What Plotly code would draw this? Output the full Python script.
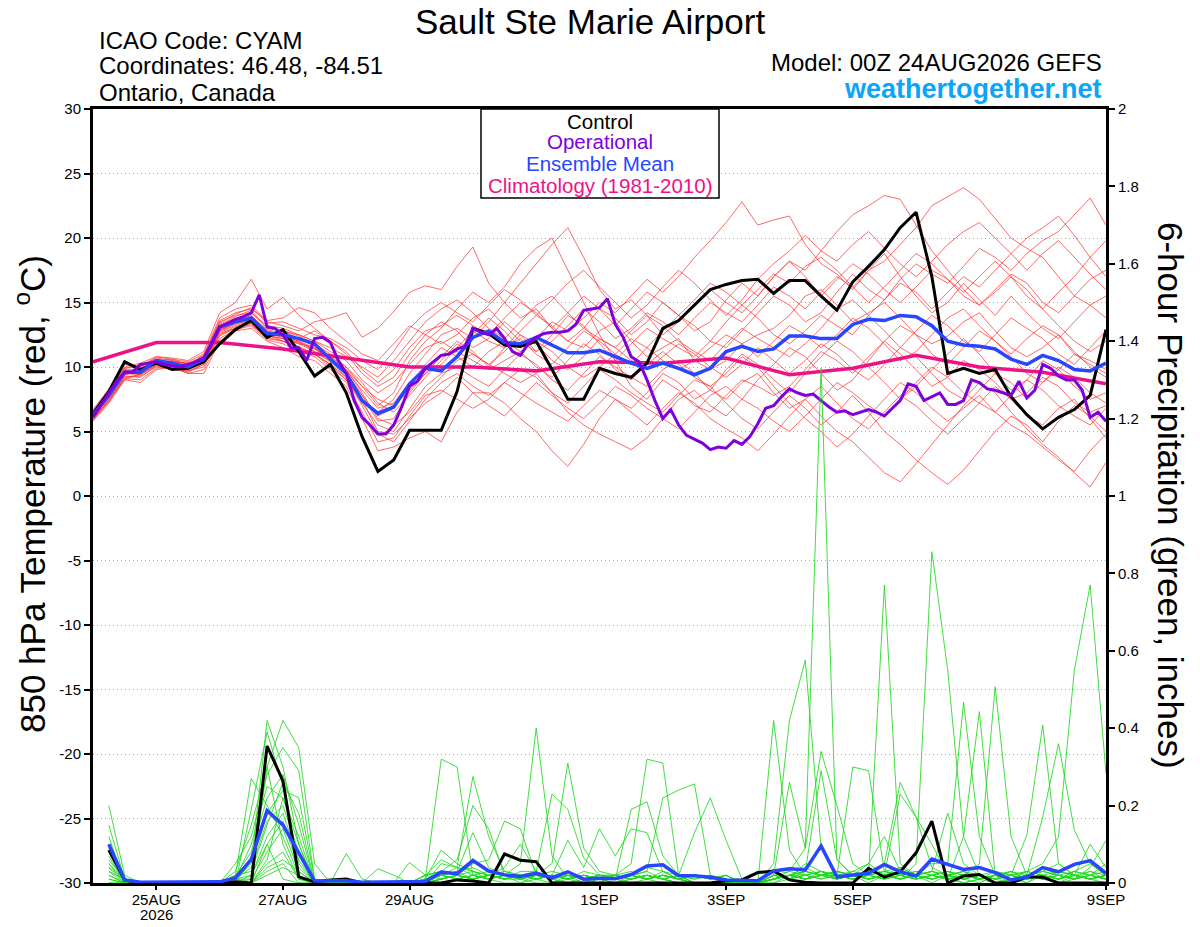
import plotly.graph_objects as go

# === time axis (hours after 00Z 24AUG2026) ===
hours6 = list(range(0, 385, 6))
hours3 = list(range(0, 385, 3))
hours24 = list(range(0, 385, 24))
precip_hours = list(range(6, 385, 6))

day_ticks = [24, 72, 120, 192, 240, 288, 336, 384]
day_labels = ['25AUG', '27AUG', '29AUG', '1SEP', '3SEP', '5SEP', '7SEP', '9SEP']
year_label = '2026'

temp_ticks = list(range(-30, 31, 5))
precip_ticks = [0, 0.2, 0.4, 0.6, 0.8, 1, 1.2, 1.4, 1.6, 1.8, 2]
precip_labels = ['0', '0.2', '0.4', '0.6', '0.8', '1', '1.2', '1.4', '1.6', '1.8', '2']

# === 850 hPa temperature (C) ===
control_t = [6.4, 8.1, 10.4, 9.8, 10.3, 9.8, 9.9, 10.4, 11.8, 12.9, 13.6, 12.3, 12.9, 11.2, 9.3, 10.2, 8.0, 4.6, 1.9, 2.8, 5.1, 5.1,
             5.1, 8.1, 13.0, 12.6, 11.7, 11.6, 12.0, 9.8, 7.5, 7.5, 9.9, 9.5, 9.2, 10.3, 13.0, 13.6, 14.8, 16.0, 16.4, 16.7, 16.8, 15.7,
             16.7, 16.7, 15.5, 14.4, 16.6, 17.8, 19.1, 20.8, 22.0, 17.0, 9.5, 9.9, 9.5, 9.8, 7.7, 6.3, 5.2, 6.1, 6.7, 7.8, 12.9]

# operational run is 3-hourly
operational_t = [6.1, 7.1, 8.0, 8.9, 9.6, 9.6, 10.2, 10.3, 10.4, 10.2, 10.1, 10.0, 10.2, 10.4, 10.7, 11.8, 13.1, 13.4, 13.7, 13.9, 14.2, 15.6,
                 13.1, 13.0, 12.5, 11.5, 11.5, 10.5, 12.2, 12.3, 11.9, 10.5, 9.5, 7.4, 6.1, 5.5, 4.8, 4.8, 5.5, 6.9, 8.5, 8.9, 9.9,
                 10.4, 10.9, 11.0, 11.4, 11.6, 13.0, 12.7, 12.5, 13.0, 12.2, 11.2, 10.9, 11.8, 12.3, 12.6, 12.7, 12.7, 12.8, 13.3, 14.4,
                 14.5, 14.6, 15.3, 13.3, 12.3, 10.8, 10.4, 9.0, 7.4, 6.0, 6.7, 5.5, 4.7, 4.4, 4.1, 3.6, 3.8, 3.7, 4.3, 4.0, 4.6, 5.6, 6.8,
                 7.0, 7.7, 8.3, 8.0, 7.8, 7.9, 7.4, 6.9, 6.5, 6.6, 6.3, 6.5, 6.7, 6.5, 6.2, 6.8, 7.4, 8.7, 8.5, 7.4, 7.7, 8.0, 7.1, 7.1,
                 7.4, 9.0, 8.8, 8.3, 8.2, 8.0, 7.8, 8.9, 7.6, 8.2, 10.2, 9.9, 9.3, 9.0, 9.0, 8.2, 6.1, 6.5, 5.8]

mean_t = [6.3, 7.8, 9.6, 9.6, 10.5, 10.3, 10.0, 10.6, 13.1, 13.5, 13.8, 12.6, 12.5, 12.2, 11.8, 10.6, 9.5, 7.4, 6.4, 6.9, 8.7, 9.9,
          9.7, 10.8, 12.3, 12.8, 11.9, 11.8, 12.3, 11.7, 11.1, 11.1, 11.3, 10.8, 10.3, 9.9, 10.3, 9.9, 9.4, 9.9, 11.2, 11.6, 11.2, 11.4,
          12.4, 12.4, 12.2, 12.2, 13.3, 13.7, 13.6, 14.0, 13.9, 13.2, 12.0, 11.7, 11.6, 11.4, 10.6, 10.2, 10.9, 10.5, 9.8, 9.7, 10.3]

# climatology, daily at 00Z
climo_t = [10.4, 11.9, 11.9, 11.4, 10.7, 10.0, 10.0, 9.7, 10.4, 10.3, 10.7, 9.4, 9.9, 10.9, 10.0, 9.6, 8.7]

# ensemble members (red), 6-hourly
temp_members = [
    [6.5, 8.2, 10.2, 10.0, 10.8, 10.6, 10.4, 11.0, 13.8, 14.5, 14.8, 13.5, 13.2, 12.8, 13.5, 13.8, 14.2, 12.3, 13.0, 14.3, 15.8, 16.3,
     16.0, 17.8, 19.3, 16.5, 15.0, 13.8, 14.5, 13.0, 12.0, 11.5, 12.8, 13.5, 12.0, 10.8, 11.5, 12.2, 10.5, 9.8, 10.5, 11.8, 12.5, 13.0,
     14.0, 15.5, 16.0, 14.8, 13.5, 14.2, 15.0, 13.8, 12.5, 11.8, 12.4, 13.5, 14.2, 12.8, 11.5, 10.8, 11.5, 12.5, 11.0, 10.2, 9.5],
    [6.2, 7.6, 9.4, 9.8, 10.5, 10.0, 9.8, 10.4, 12.8, 13.2, 13.6, 12.5, 12.0, 11.5, 11.0, 10.2, 9.2, 7.5, 6.5, 7.5, 9.5, 11.0,
     12.5, 13.0, 12.2, 13.5, 15.0, 16.5, 18.0, 19.5, 20.8, 18.5, 16.0, 14.5, 15.2, 14.0, 12.5, 13.5, 14.8, 16.0, 15.0, 14.2, 15.5, 17.0,
     18.2, 17.0, 15.5, 16.8, 18.0, 17.2, 16.0, 15.0, 16.2, 17.5, 16.8, 15.5, 14.8, 16.0, 17.2, 16.5, 15.0, 14.2, 15.5, 16.8, 17.5],
    [6.0, 7.4, 9.0, 9.5, 10.2, 10.1, 9.7, 10.2, 12.4, 13.0, 13.4, 12.2, 12.8, 12.4, 11.8, 11.0, 10.0, 8.5, 7.0, 8.0, 10.5, 12.0,
     13.0, 14.5, 15.8, 15.0, 16.2, 18.0, 19.2, 20.0, 17.5, 15.0, 12.5, 10.5, 8.5, 7.5, 9.0, 8.2, 7.0, 6.5, 7.8, 9.0, 8.5, 7.8,
     8.5, 9.8, 11.2, 10.5, 9.5, 10.8, 12.0, 11.0, 9.8, 8.5, 9.2, 10.5, 9.8, 8.8, 7.5, 8.0, 9.2, 8.5, 7.2, 6.5, 7.0],
    [5.8, 7.2, 9.0, 8.8, 9.8, 10.0, 9.5, 9.5, 12.0, 12.8, 13.0, 12.0, 11.5, 10.8, 10.5, 9.5, 8.5, 6.0, 3.5, 3.8, 4.5, 5.0,
     4.2, 6.5, 8.0, 8.0, 7.2, 6.0, 5.0, 3.5, 2.3, 4.0, 6.0, 7.5, 6.8, 8.0, 9.5, 8.8, 7.5, 8.2, 9.8, 11.0, 10.2, 9.0,
     8.0, 9.5, 10.8, 12.0, 11.2, 10.0, 8.8, 7.5, 8.5, 9.8, 11.0, 12.2, 11.0, 9.5, 8.2, 9.0, 10.5, 9.8, 8.5, 7.5, 8.0],
    [6.4, 7.9, 9.8, 9.4, 10.3, 10.5, 10.2, 10.8, 13.2, 13.8, 13.5, 12.5, 12.2, 11.8, 11.5, 10.8, 9.8, 8.0, 6.0, 5.5, 6.5, 8.0,
     9.2, 10.5, 11.0, 10.2, 9.5, 8.8, 9.5, 8.0, 6.5, 5.5, 4.8, 4.2, 3.6, 4.5, 6.0, 7.5, 8.2, 7.0, 6.2, 7.5, 9.0, 10.2,
     11.5, 10.8, 9.5, 8.2, 9.0, 10.5, 12.0, 13.2, 12.5, 11.0, 10.2, 11.5, 12.8, 12.0, 10.8, 9.5, 8.8, 9.8, 11.0, 10.5, 9.8],
    [6.6, 8.0, 9.9, 10.2, 10.6, 10.4, 10.3, 10.8, 13.5, 14.0, 14.2, 13.2, 13.0, 12.5, 12.0, 11.2, 10.5, 9.0, 8.0, 8.8, 10.2, 11.5,
     12.0, 11.2, 12.5, 13.8, 12.8, 11.5, 12.2, 13.5, 12.8, 13.8, 15.0, 14.2, 15.5, 16.8, 15.8, 17.0, 18.5, 19.8, 21.2, 22.8, 21.0, 21.4,
     21.7, 19.5, 18.0, 17.2, 16.0, 17.5, 18.8, 17.0, 15.5, 14.2, 15.0, 16.5, 15.2, 14.0, 15.5, 14.2, 13.0, 12.2, 13.5, 14.8, 13.8],
    [6.1, 7.7, 9.5, 9.6, 10.4, 10.2, 10.0, 10.5, 13.0, 13.5, 14.0, 12.8, 12.5, 12.0, 11.5, 10.5, 9.5, 7.8, 5.8, 6.0, 8.0, 9.5,
     10.2, 11.5, 12.8, 12.0, 11.5, 12.8, 14.0, 13.2, 12.0, 13.0, 14.5, 13.8, 12.5, 13.5, 15.0, 14.0, 12.8, 13.5, 15.2, 16.5, 15.5, 17.0,
     18.2, 17.5, 19.0, 20.5, 21.8, 22.5, 23.3, 23.0, 21.0, 19.0, 17.5, 16.0, 14.8, 15.8, 17.0, 16.0, 14.5, 13.2, 12.0, 11.2, 12.0],
    [6.3, 7.8, 9.7, 9.9, 10.6, 10.3, 10.1, 10.7, 13.3, 13.9, 14.4, 13.0, 12.8, 12.2, 12.8, 12.0, 11.0, 9.5, 8.5, 9.2, 11.0, 12.5,
     13.5, 12.8, 11.5, 12.2, 13.5, 12.5, 11.2, 12.0, 13.2, 14.5, 13.5, 12.2, 13.0, 14.2, 13.5, 12.5, 13.8, 15.0, 14.2, 13.5, 14.8, 16.2,
     15.5, 14.5, 15.8, 17.0, 16.2, 17.5, 18.2, 19.5, 20.8, 22.5, 23.2, 23.9, 23.0, 21.5, 20.0, 19.2, 18.5, 17.0, 15.5, 14.8, 15.5],
    [6.2, 7.7, 9.6, 9.5, 10.3, 10.4, 10.0, 10.3, 12.8, 13.4, 13.8, 12.8, 12.4, 12.0, 11.2, 10.5, 9.8, 8.5, 7.5, 7.0, 8.2, 9.5,
     10.8, 12.0, 11.2, 10.0, 11.5, 12.2, 11.0, 10.2, 11.5, 12.8, 12.0, 11.0, 10.2, 11.5, 12.8, 14.0, 13.2, 12.0, 11.5, 12.8, 14.2, 15.5,
     14.8, 13.5, 14.2, 15.8, 17.2, 16.0, 15.2, 16.8, 18.0, 17.2, 16.5, 17.8, 19.2, 18.5, 17.5, 18.8, 19.8, 20.5, 21.8, 23.1, 21.0],
    [6.5, 8.0, 9.8, 9.7, 10.5, 10.6, 10.2, 10.9, 13.6, 14.2, 14.5, 13.6, 13.8, 14.6, 14.2, 13.0, 12.0, 11.0, 10.5, 11.8, 13.2, 12.5,
     11.8, 12.5, 13.8, 14.5, 13.2, 12.0, 11.2, 12.5, 14.0, 13.2, 11.8, 10.5, 11.8, 13.0, 12.2, 11.5, 10.8, 12.0, 13.5, 14.8, 13.8, 12.5,
     11.8, 12.8, 14.0, 13.2, 12.5, 14.0, 15.2, 16.5, 15.8, 14.5, 15.8, 17.0, 16.2, 17.5, 18.8, 20.0, 20.8, 21.7, 20.2, 18.5, 17.0],
    [5.9, 7.3, 9.2, 9.3, 10.0, 9.9, 9.6, 10.2, 12.6, 13.0, 13.3, 12.2, 12.0, 11.5, 11.0, 10.2, 9.0, 7.2, 5.5, 5.0, 6.8, 8.5,
     9.5, 10.0, 9.2, 8.5, 9.8, 11.0, 10.2, 9.0, 8.2, 9.5, 10.8, 10.0, 9.2, 8.5, 9.8, 10.5, 9.5, 8.2, 7.5, 8.8, 9.5, 8.0,
     6.8, 7.5, 6.2, 5.0, 4.2, 3.0, 1.8, 1.1, 2.5, 4.0, 5.5, 7.0, 8.2, 9.5, 8.8, 7.5, 8.8, 10.0, 9.2, 8.0, 7.2],
    [6.0, 7.5, 9.3, 9.2, 10.1, 10.0, 9.8, 10.3, 12.7, 13.1, 13.5, 12.4, 12.2, 11.8, 11.2, 10.4, 9.2, 7.0, 4.8, 4.2, 5.8, 7.5,
     8.8, 9.5, 8.5, 7.8, 8.8, 9.8, 9.2, 8.0, 7.2, 8.5, 9.8, 9.0, 8.0, 7.2, 6.5, 7.8, 9.0, 8.5, 7.2, 6.0, 5.2, 6.5,
     7.8, 6.8, 5.5, 6.5, 7.8, 6.5, 5.0, 4.0, 2.8, 1.8, 0.9, 2.0, 3.5, 5.0, 6.2, 5.5, 4.2, 5.8, 7.0, 6.2, 5.0],
    [6.4, 7.9, 9.7, 9.6, 10.4, 10.3, 10.1, 10.6, 13.1, 13.6, 13.9, 12.9, 12.6, 12.2, 11.6, 10.8, 10.0, 8.8, 7.2, 6.5, 7.8, 9.2,
     10.5, 11.8, 11.0, 10.2, 11.2, 12.5, 11.8, 10.5, 9.8, 10.8, 12.2, 11.5, 10.5, 9.8, 10.8, 11.8, 11.0, 10.0, 9.2, 10.2, 11.5, 10.5,
     9.5, 10.5, 11.8, 11.0, 9.8, 9.0, 10.2, 11.5, 10.8, 9.5, 8.2, 7.5, 8.8, 8.0, 6.5, 5.2, 4.0, 3.0, 1.8, 0.7, 2.6],
    [6.1, 7.6, 9.4, 9.7, 10.3, 10.1, 9.9, 10.4, 12.9, 13.3, 13.7, 12.6, 12.4, 11.9, 11.4, 10.6, 9.6, 7.8, 6.2, 6.8, 8.5, 10.2,
     11.5, 10.8, 10.0, 11.2, 12.0, 11.2, 10.0, 9.2, 10.5, 11.8, 11.0, 9.8, 9.0, 10.2, 11.2, 10.2, 9.2, 8.5, 9.5, 10.8, 10.0, 8.5,
     7.2, 6.0, 5.0, 3.8, 4.8, 6.2, 7.5, 8.8, 8.0, 6.8, 5.8, 6.8, 7.8, 6.5, 5.5, 4.8, 3.8, 2.8, 1.9, 3.5, 4.8],
    [6.7, 8.3, 10.0, 10.3, 10.8, 10.7, 10.5, 11.2, 14.2, 15.0, 16.8, 14.5, 15.4, 14.0, 13.0, 12.0, 11.2, 9.8, 8.8, 9.8, 11.5, 12.8,
     13.2, 14.0, 13.2, 12.5, 13.8, 15.0, 14.2, 13.0, 14.2, 15.5, 14.5, 13.2, 14.5, 15.8, 15.0, 14.0, 15.2, 16.5, 15.8, 14.8, 16.0, 17.2,
     16.5, 17.8, 18.5, 17.5, 16.2, 15.0, 16.2, 17.5, 18.8, 18.0, 16.8, 15.8, 17.0, 18.2, 17.0, 15.5, 14.5, 15.8, 17.0, 18.5, 19.8],
    [5.9, 7.4, 9.1, 9.0, 9.9, 10.0, 9.5, 9.8, 12.2, 12.9, 13.2, 12.1, 11.8, 11.2, 10.8, 9.8, 8.8, 6.5, 4.2, 4.5, 6.2, 7.8,
     8.2, 7.5, 6.8, 7.5, 8.8, 8.0, 7.2, 6.5, 5.8, 7.0, 8.2, 7.5, 6.5, 5.5, 6.8, 8.0, 7.2, 6.0, 5.2, 4.5, 3.5, 4.8,
     6.2, 7.5, 8.5, 7.2, 6.0, 5.2, 6.5, 7.8, 7.0, 5.8, 4.8, 6.0, 7.2, 8.5, 7.5, 6.2, 5.5, 6.8, 7.5, 6.0, 4.5],
    [6.3, 7.9, 9.6, 9.8, 10.5, 10.4, 10.3, 10.6, 13.2, 13.7, 14.2, 13.0, 12.8, 12.5, 12.0, 11.5, 10.8, 10.0, 9.2, 10.5, 12.0, 13.5,
     14.5, 15.2, 14.2, 13.0, 12.2, 13.5, 14.8, 15.5, 14.2, 13.0, 12.2, 11.5, 12.8, 14.0, 13.2, 12.0, 11.2, 10.5, 11.8, 13.0, 12.2, 11.5,
     10.8, 11.8, 13.0, 14.5, 15.2, 14.0, 12.8, 11.5, 12.8, 14.0, 13.2, 12.0, 11.2, 12.5, 13.8, 13.0, 12.2, 11.0, 10.2, 11.5, 12.8],
    [6.2, 7.7, 9.5, 9.4, 10.2, 10.1, 9.9, 10.4, 12.9, 13.4, 13.6, 12.6, 12.3, 11.9, 11.4, 10.7, 9.7, 8.2, 6.8, 7.2, 8.8, 10.0,
     10.8, 11.2, 10.5, 9.8, 10.5, 11.2, 12.0, 11.2, 10.0, 9.2, 10.0, 11.0, 12.2, 11.5, 10.5, 9.8, 10.5, 11.5, 12.5, 11.8, 10.8, 12.0,
     13.2, 12.5, 11.5, 12.5, 13.8, 13.0, 11.8, 10.5, 11.2, 12.5, 13.8, 14.5, 13.2, 12.0, 11.0, 12.2, 13.2, 12.5, 11.2, 10.0, 9.2],
    [6.5, 8.1, 9.9, 10.0, 10.7, 10.5, 10.2, 10.9, 13.4, 14.1, 14.6, 13.4, 13.5, 13.0, 12.5, 12.2, 11.5, 10.5, 9.8, 11.2, 13.0, 14.2,
     15.0, 14.2, 13.5, 14.8, 16.0, 15.2, 14.0, 15.2, 16.5, 17.5, 16.2, 15.0, 13.8, 14.8, 16.2, 17.5, 16.5, 15.2, 14.0, 15.2, 16.8, 18.0,
     19.0, 20.2, 19.0, 18.2, 19.5, 20.5, 19.2, 18.0, 17.0, 18.2, 19.5, 20.5, 21.2, 20.0, 18.8, 17.5, 18.8, 19.8, 18.5, 17.2, 16.0],
    [6.0, 7.4, 9.2, 9.4, 10.1, 9.8, 9.7, 10.0, 12.5, 13.0, 13.4, 12.3, 12.0, 11.6, 11.0, 10.0, 9.0, 7.5, 5.0, 4.8, 6.0, 7.2,
     8.0, 9.2, 8.0, 7.0, 6.2, 7.5, 8.8, 7.8, 6.8, 6.0, 7.2, 8.5, 7.8, 6.8, 6.0, 5.2, 6.5, 7.8, 8.5, 7.5, 6.8, 5.8,
     5.0, 6.2, 7.5, 8.8, 8.0, 7.0, 6.2, 7.5, 8.8, 10.0, 9.2, 8.0, 7.2, 6.5, 7.8, 9.0, 8.2, 7.0, 6.2, 5.5, 6.8],
]

# === 6-hour precipitation (inches) ===
control_p = [0.085, 0.008, 0, 0, 0, 0, 0, 0, 0.003, 0, 0.354, 0.264, 0.016, 0.003, 0.008, 0.01,
             0, 0, 0, 0, 0, 0, 0.008, 0.005, 0, 0.075, 0.059, 0.055, 0, 0, 0, 0,
             0, 0, 0, 0, 0, 0, 0, 0.006, 0.008, 0.027, 0.031, 0.008, 0.002, 0, 0, 0,
             0.038, 0.015, 0.029, 0.078, 0.16, 0, 0.018, 0.022, 0, 0, 0.016, 0.015, 0, 0, 0, 0]

mean_p = [0.10, 0.008, 0.002, 0.002, 0.002, 0.002, 0.002, 0.003, 0.013, 0.061, 0.187, 0.15, 0.078, 0.005, 0.006, 0.006,
          0.002, 0.002, 0.002, 0.002, 0.004, 0.028, 0.024, 0.058, 0.031, 0.021, 0.017, 0.025, 0.014, 0.029, 0.01, 0.012,
          0.011, 0.022, 0.044, 0.047, 0.019, 0.019, 0.015, 0.008, 0.006, 0.006, 0.031, 0.037, 0.034, 0.096, 0.016, 0.021,
          0.025, 0.048, 0.029, 0.018, 0.062, 0.048, 0.035, 0.04, 0.027, 0.008, 0.015, 0.04, 0.029, 0.048, 0.058, 0.025]

precip_members = [
    [0.20, 0.02, 0, 0, 0, 0, 0, 0, 0.01, 0.05, 0.42, 0.30, 0.10, 0, 0, 0,
     0, 0, 0, 0, 0.01, 0.32, 0.30, 0.02, 0.01, 0, 0, 0.02, 0.01, 0, 0, 0.01,
     0.01, 0.02, 0.03, 0.01, 0, 0, 0, 0, 0, 0, 0.01, 0.03, 0.09, 1.33, 0.06, 0.02,
     0, 0.02, 0.04, 0.02, 0.03, 0.01, 0, 0.01, 0.03, 0.02, 0, 0.03, 0.05, 0.02, 0.01, 0],
    [0.15, 0.01, 0, 0, 0, 0, 0, 0, 0.02, 0.27, 0.20, 0.12, 0.02, 0, 0, 0,
     0, 0, 0, 0, 0, 0.05, 0.04, 0.275, 0.12, 0.03, 0.02, 0.01, 0, 0.02, 0, 0,
     0, 0.01, 0.02, 0.01, 0, 0, 0, 0, 0, 0, 0.02, 0.01, 0.03, 0.02, 0.02, 0.01,
     0.02, 0.77, 0.05, 0.02, 0, 0.02, 0.03, 0.01, 0, 0.01, 0.02, 0.01, 0, 0.02, 0.03, 0.01],
    [0.12, 0, 0, 0, 0, 0, 0, 0, 0, 0.19, 0.39, 0.25, 0.05, 0, 0, 0,
     0, 0, 0, 0, 0.02, 0.03, 0.06, 0.20, 0.14, 0.02, 0, 0.01, 0.02, 0.01, 0, 0.02,
     0.01, 0, 0.01, 0.02, 0.01, 0, 0, 0, 0, 0, 0.01, 0.02, 0.01, 0.03, 0.02, 0.01,
     0.02, 0.05, 0.26, 0.17, 0.10, 0.02, 0, 0.01, 0.02, 0, 0.01, 0.02, 0.01, 0.03, 0.02, 0.05],
    [0.10, 0.01, 0, 0, 0, 0, 0, 0, 0.03, 0.15, 0.30, 0.42, 0.35, 0.05, 0, 0,
     0, 0, 0, 0, 0.01, 0.02, 0.03, 0.13, 0.04, 0.02, 0.01, 0, 0, 0.01, 0.02, 0.01,
     0, 0.02, 0.04, 0.03, 0.01, 0, 0, 0, 0, 0, 0, 0.02, 0.04, 0.02, 0.01, 0.03,
     0.05, 0.02, 0.23, 0.17, 0.04, 0.02, 0.01, 0, 0.02, 0.03, 0.01, 0.02, 0, 0.01, 0.02, 0.03],
    [0.09, 0, 0, 0, 0, 0, 0, 0, 0.05, 0.12, 0.28, 0.35, 0.29, 0.01, 0, 0.076,
     0.01, 0, 0, 0, 0.02, 0.03, 0.02, 0.05, 0.06, 0.16, 0.14, 0.02, 0.01, 0, 0.01, 0.02,
     0.01, 0.02, 0.01, 0, 0, 0, 0, 0, 0, 0, 0.01, 0.02, 0.02, 0.03, 0.01, 0.02,
     0.03, 0.02, 0.01, 0.05, 0.856, 0.55, 0.12, 0.02, 0, 0.01, 0.03, 0.02, 0.01, 0.03, 0.05, 0.02],
    [0.08, 0.01, 0, 0, 0, 0, 0, 0, 0.01, 0.10, 0.25, 0.22, 0.12, 0, 0, 0,
     0, 0.037, 0.02, 0, 0.01, 0.02, 0.04, 0.03, 0.02, 0.04, 0.10, 0.03, 0.01, 0.02, 0.01, 0,
     0.02, 0.03, 0.01, 0.02, 0.01, 0, 0, 0, 0, 0, 0.02, 0.01, 0.05, 0.03, 0.02, 0.01,
     0.02, 0.03, 0.04, 0.02, 0.03, 0.18, 0.05, 0.02, 0.01, 0, 0.02, 0.04, 0.02, 0.01, 0.03, 0.02],
    [0.07, 0, 0, 0, 0, 0, 0, 0, 0.02, 0.08, 0.22, 0.28, 0.15, 0, 0, 0,
     0, 0, 0, 0.053, 0.02, 0.01, 0.02, 0.03, 0.01, 0.02, 0.05, 0.40, 0.07, 0.01, 0.02, 0.01,
     0, 0.01, 0.02, 0.01, 0, 0, 0, 0, 0, 0, 0.01, 0.02, 0.01, 0.02, 0.03, 0.02,
     0.01, 0.02, 0.03, 0.02, 0.05, 0.05, 0.467, 0.12, 0.02, 0.01, 0, 0.02, 0.01, 0.02, 0.01, 0.02],
    [0.06, 0.01, 0, 0, 0, 0, 0, 0, 0, 0.06, 0.18, 0.24, 0.22, 0.01, 0, 0,
     0, 0, 0, 0, 0.01, 0.085, 0.05, 0.03, 0.02, 0.01, 0.03, 0.03, 0.23, 0.19, 0.065, 0.02,
     0.01, 0.02, 0.01, 0.03, 0.02, 0, 0, 0, 0, 0, 0.02, 0.03, 0.02, 0.01, 0.02, 0.03,
     0.02, 0.01, 0.02, 0.03, 0.02, 0.01, 0.12, 0.443, 0.02, 0.01, 0.02, 0.01, 0.03, 0.02, 0.01, 0.02],
    [0.05, 0, 0, 0, 0, 0, 0, 0, 0.01, 0.04, 0.16, 0.20, 0.08, 0, 0, 0,
     0, 0, 0, 0, 0.02, 0.06, 0.04, 0.02, 0.01, 0.02, 0.01, 0.02, 0.05, 0.31, 0.09, 0.03,
     0.02, 0.01, 0.02, 0.01, 0, 0, 0, 0, 0, 0, 0.01, 0.02, 0.03, 0.02, 0.01, 0.02,
     0.01, 0.02, 0.03, 0.01, 0.02, 0.03, 0.02, 0.05, 0.507, 0.12, 0.02, 0.01, 0.02, 0.03, 0.02, 0.01],
    [0.05, 0.01, 0, 0, 0, 0, 0, 0, 0.02, 0.03, 0.15, 0.26, 0.18, 0, 0, 0,
     0, 0, 0, 0, 0.01, 0.02, 0.03, 0.04, 0.02, 0.01, 0.02, 0.01, 0.02, 0.11, 0.04, 0.14,
     0.07, 0.14, 0.13, 0.03, 0.01, 0, 0, 0, 0, 0, 0, 0.01, 0.02, 0.01, 0.02, 0.01,
     0.02, 0.03, 0.02, 0.01, 0.02, 0.03, 0.01, 0.02, 0.03, 0.02, 0.124, 0.408, 0.05, 0.02, 0.01, 0.02],
    [0.04, 0, 0, 0, 0, 0, 0, 0, 0, 0.02, 0.12, 0.18, 0.06, 0, 0, 0,
     0, 0, 0, 0, 0.02, 0.03, 0.02, 0.01, 0.02, 0.03, 0.02, 0.01, 0.02, 0.01, 0.03, 0.02,
     0.01, 0.19, 0.21, 0.07, 0.02, 0, 0, 0, 0, 0, 0.01, 0.02, 0.01, 0.02, 0.03, 0.02,
     0.01, 0.02, 0.01, 0.02, 0.03, 0.02, 0.01, 0.02, 0.01, 0.03, 0.02, 0.17, 0.36, 0.137, 0.05, 0.02],
    [0.04, 0.01, 0, 0, 0, 0, 0, 0, 0.01, 0.02, 0.10, 0.16, 0.04, 0, 0, 0,
     0, 0, 0, 0, 0, 0.02, 0.01, 0.02, 0.01, 0.02, 0.01, 0.02, 0.01, 0.02, 0.01, 0.02,
     0.02, 0.05, 0.32, 0.31, 0.02, 0, 0, 0, 0, 0, 0.02, 0.01, 0.02, 0.03, 0.01, 0.02,
     0.03, 0.02, 0.01, 0.02, 0.01, 0.02, 0.03, 0.02, 0.01, 0.02, 0.03, 0.05, 0.12, 0.55, 0.77, 0.283],
    [0.03, 0, 0, 0, 0, 0, 0, 0, 0, 0.01, 0.08, 0.14, 0.03, 0, 0, 0,
     0, 0, 0, 0, 0.01, 0.02, 0.03, 0.01, 0.02, 0.01, 0.02, 0.03, 0.01, 0.02, 0.01, 0.02,
     0.01, 0.02, 0.03, 0.22, 0.24, 0.256, 0.02, 0, 0, 0, 0.01, 0.02, 0.01, 0.02, 0.01, 0.02,
     0.01, 0.02, 0.03, 0.02, 0.01, 0.02, 0.03, 0.01, 0.02, 0.01, 0.02, 0.03, 0.02, 0.01, 0.04, 0.11],
    [0.03, 0.01, 0, 0, 0, 0, 0, 0, 0.01, 0.01, 0.30, 0.10, 0.01, 0, 0, 0,
     0, 0, 0, 0, 0.01, 0.02, 0.01, 0.02, 0.03, 0.02, 0.01, 0.02, 0.03, 0.02, 0.01, 0.02,
     0.02, 0.01, 0.02, 0.01, 0.02, 0.13, 0.22, 0.11, 0.01, 0, 0.01, 0.02, 0.01, 0.02, 0.03, 0.02,
     0.01, 0.02, 0.01, 0.02, 0.03, 0.02, 0.01, 0.02, 0.01, 0.02, 0.03, 0.02, 0.01, 0.02, 0.10, 0.04],
    [0.02, 0, 0, 0, 0, 0, 0, 0, 0, 0, 0.06, 0.22, 0.10, 0, 0, 0,
     0, 0, 0, 0, 0, 0.01, 0.02, 0.01, 0.02, 0.01, 0.02, 0.01, 0.02, 0.01, 0.02, 0.01,
     0.01, 0.02, 0.01, 0.02, 0.01, 0.02, 0.01, 0.02, 0, 0, 0.42, 0.085, 0.02, 0.03, 0.02, 0.01,
     0.02, 0.03, 0.02, 0.01, 0.02, 0.03, 0.02, 0.01, 0.02, 0.03, 0.01, 0.02, 0.03, 0.02, 0.01, 0.02],
    [0.02, 0, 0, 0, 0, 0, 0, 0, 0, 0, 0.05, 0.08, 0.01, 0, 0, 0,
     0, 0, 0, 0, 0, 0.01, 0.02, 0.01, 0.02, 0.01, 0.01, 0.02, 0.01, 0.02, 0.01, 0.01,
     0.02, 0.01, 0.02, 0.01, 0.02, 0.01, 0.02, 0.01, 0, 0, 0.05, 0.42, 0.576, 0.09, 0.02, 0.01,
     0.02, 0.01, 0.02, 0.03, 0.02, 0.01, 0.02, 0.01, 0.02, 0.01, 0.02, 0.03, 0.02, 0.01, 0.02, 0.01],
    [0.01, 0, 0, 0, 0, 0, 0, 0, 0.01, 0, 0.04, 0.06, 0.03, 0, 0, 0,
     0, 0, 0, 0, 0.01, 0.02, 0.01, 0.02, 0.01, 0.02, 0.01, 0.02, 0.01, 0.02, 0.01, 0.02,
     0.01, 0.02, 0.01, 0.02, 0.01, 0.02, 0.01, 0.02, 0, 0, 0.02, 0.26, 0.09, 0.34, 0.20, 0.05,
     0.02, 0.01, 0.02, 0.01, 0.02, 0.01, 0.02, 0.01, 0.02, 0.01, 0.02, 0.01, 0.02, 0.01, 0.02, 0.01],
    [0.01, 0, 0, 0, 0, 0, 0, 0, 0, 0, 0.03, 0.05, 0, 0, 0, 0,
     0, 0, 0, 0, 0, 0.01, 0.02, 0.01, 0.02, 0.01, 0.02, 0.01, 0.02, 0.01, 0.02, 0.01,
     0.02, 0.01, 0.02, 0.01, 0.02, 0.01, 0.02, 0.01, 0, 0, 0.01, 0.02, 0.03, 0.29, 0.06, 0.02,
     0.01, 0.02, 0.01, 0.02, 0.01, 0.02, 0.01, 0.02, 0.01, 0.02, 0.01, 0.02, 0.01, 0.02, 0.01, 0.02],
    [0, 0, 0, 0, 0, 0, 0, 0, 0, 0, 0.02, 0.04, 0.02, 0, 0, 0,
     0, 0, 0, 0, 0, 0.01, 0.02, 0.01, 0.02, 0.01, 0.02, 0.01, 0.02, 0.01, 0.02, 0.01,
     0.01, 0.02, 0.01, 0.02, 0.01, 0.02, 0.01, 0.02, 0, 0, 0.01, 0.02, 0.03, 0.02, 0.02, 0.30,
     0.29, 0.03, 0.02, 0.01, 0.02, 0.01, 0.02, 0.01, 0.02, 0.01, 0.02, 0.01, 0.02, 0.01, 0.02, 0.01],
    [0, 0, 0, 0, 0, 0, 0, 0, 0, 0, 0.10, 0.01, 0, 0, 0, 0,
     0, 0, 0, 0, 0, 0.01, 0.02, 0.01, 0.02, 0.01, 0.02, 0.01, 0.02, 0.01, 0.02, 0.01,
     0.01, 0.02, 0.01, 0.02, 0.01, 0.02, 0.01, 0.02, 0, 0, 0.01, 0.02, 0.01, 0.02, 0.03, 0.02,
     0.05, 0.12, 0.03, 0.02, 0.01, 0.02, 0.01, 0.02, 0.01, 0.02, 0.01, 0.02, 0.01, 0.02, 0.01, 0.02],
]

for m in temp_members:
    assert len(m) == len(hours6), len(m)
for m in precip_members:
    assert len(m) == len(precip_hours), len(m)

# === colours ===
RED = 'rgba(255,55,55,0.75)'
GREEN = 'rgba(30,215,30,0.85)'
PURPLE = '#8000DC'
BLUE = '#2846FF'
MAGENTA = '#EE1289'
FONT = 'Liberation Sans, Arial, Helvetica, sans-serif'

fig = go.Figure()

for m in temp_members:
    fig.add_trace(go.Scatter(x=hours6, y=m, mode='lines', line=dict(color=RED, width=1), hoverinfo='skip'))

for m in precip_members:
    fig.add_trace(go.Scatter(x=precip_hours, y=m, mode='lines', yaxis='y2',
                             line=dict(color=GREEN, width=1), hoverinfo='skip'))

fig.add_trace(go.Scatter(x=precip_hours, y=control_p, mode='lines', yaxis='y2', line=dict(color='black', width=3)))
fig.add_trace(go.Scatter(x=precip_hours, y=mean_p, mode='lines', yaxis='y2', line=dict(color=BLUE, width=3.5)))

fig.add_trace(go.Scatter(x=hours24, y=climo_t, mode='lines', line=dict(color=MAGENTA, width=3.5)))
fig.add_trace(go.Scatter(x=hours6, y=control_t, mode='lines', line=dict(color='black', width=3)))
fig.add_trace(go.Scatter(x=hours6, y=mean_t, mode='lines', line=dict(color=BLUE, width=3.5)))
fig.add_trace(go.Scatter(x=hours3, y=operational_t, mode='lines', line=dict(color=PURPLE, width=3)))

# plot area in reference pixels; the page body adds an 8px offset, so the margins are shifted by it
L, R, T, B = 93, 1106, 109, 883
OFF = 8


def paper(x, y):
    return (x - L) / (R - L), (B - y) / (B - T)


def label(text, x, y, size, color='black', xanchor='center', angle=0):
    px, py = paper(x, y)
    fig.add_annotation(text=text, x=px, y=py, xref='paper', yref='paper', showarrow=False,
                       xanchor=xanchor, yanchor='middle', textangle=angle,
                       font=dict(family=FONT, size=size, color=color))


label('Sault Ste Marie Airport', 590, 21, 35)
label('ICAO Code: CYAM', 97, 40, 24, xanchor='left')
label('Coordinates: 46.48, -84.51', 97, 66, 24, xanchor='left')
label('Ontario, Canada', 97, 92, 24, xanchor='left')
label('Model: 00Z 24AUG2026 GEFS', 1104, 63, 24, xanchor='right')
label('<b>weathertogether.net</b>', 1104, 89, 27, color='#0AA5F5', xanchor='right')

# legend box
x0, y0 = paper(481, 109)
x1, y1 = paper(719, 198)
fig.add_shape(type='rect', xref='paper', yref='paper', x0=x0, y0=y0, x1=x1, y1=y1,
              fillcolor='white', line=dict(color='black', width=1.5), layer='above')
label('Control', 600, 121, 20.5)
label('Operational', 600, 142, 20.5, color=PURPLE)
label('Ensemble Mean', 600, 163, 20.5, color=BLUE)
label('Climatology (1981-2010)', 600, 185, 20.5, color=MAGENTA)

# year under the first date tick
label(year_label, 156, 915, 15)

label('850 hPa Temperature (red, <sup>o</sup>C)', 30, 494, 35, angle=-90)
label('6-hour Precipitation (green, inches)', 1170, 495, 35, angle=90)

fig.update_layout(
    width=1200, height=927,
    margin=dict(l=L - OFF, r=1200 - R + OFF, t=T - OFF, b=927 - B + OFF, autoexpand=False),
    paper_bgcolor='white', plot_bgcolor='white',
    showlegend=False,
    font=dict(family=FONT, size=15, color='black'),
    xaxis=dict(range=[0, 384], tickvals=day_ticks, ticktext=day_labels, automargin=False,
               ticks='outside', ticklen=4, tickwidth=1.5, tickcolor='black', ticklabelstandoff=-3,
               showline=True, linewidth=3, linecolor='black', mirror=True,
               showgrid=False, zeroline=False, tickfont=dict(size=15)),
    yaxis=dict(range=[-30, 30], tickvals=temp_ticks, ticktext=[str(v) for v in temp_ticks], automargin=False,
               ticks='outside', ticklen=6, tickwidth=1.5, tickcolor='black',
               showline=True, linewidth=3, linecolor='black',
               showgrid=True, gridcolor='#a8a8a8', griddash='1px,3px', gridwidth=1,
               zeroline=False, tickfont=dict(size=15)),
    yaxis2=dict(range=[0, 2], overlaying='y', side='right', automargin=False,
                tickvals=precip_ticks, ticktext=precip_labels,
                ticks='outside', ticklen=6, tickwidth=1.5, tickcolor='black',
                showline=True, linewidth=3, linecolor='black',
                showgrid=False, zeroline=False, tickfont=dict(size=15)),
)

fig.write_html("out.html")
